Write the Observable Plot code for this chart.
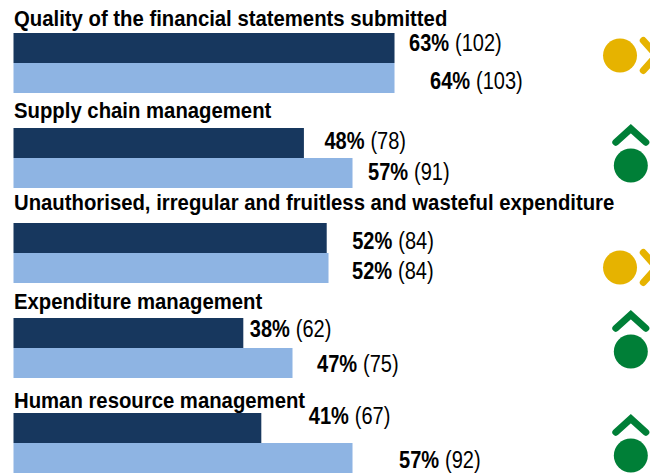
<!DOCTYPE html>
<html>
<head>
<meta charset="utf-8">
<script src="https://cdn.jsdelivr.net/npm/d3@7"></script>
<script src="https://cdn.jsdelivr.net/npm/@observablehq/plot@0.6"></script>
<style>
html,body{margin:0;padding:0;background:#fff;overflow:hidden}
svg{display:block}
</style>
</head>
<body>
<div id="chart"></div>
<script>
const topics = [
  "Quality of the financial statements submitted",
  "Supply chain management",
  "Unauthorised, irregular and fruitless and wasteful expenditure",
  "Expenditure management",
  "Human resource management"
];
const seriesNames = ["Earlier", "Later"];
const earlierPct = [63, 48, 52, 38, 41];
const laterPct = [64, 57, 52, 47, 57];
const earlierCount = [102, 78, 84, 62, 67];
const laterCount = [103, 91, 84, 75, 92];
const earlierBar = [63.5, 48.4, 52.2, 38.3, 41.3];
const laterBar = [63.5, 56.5, 52.5, 46.5, 56.5];
const status = ["steady", "up", "steady", "up", "up"];

// Hand placement of the labels and icons, as in the original slide
const earlierLabel = [[14, -5], [20, -2], [25, 3], [6, -4], [47, -12]];
const laterLabel = [[35, 3], [15, -1], [23, 3], [24, 1], [46, 2]];
const titleDy = [-15, -18, -21, -17, -13];
const iconDy = [-8, 7, 14, 3, 12];
const colors = {dark: "#17375e", light: "#8eb4e3", steady: "#e6b300", up: "#007f37"};
const font = "'Liberation Sans',Arial,sans-serif";
const titleSize = 22, labelSize = 23;
const titleCondense = 0.923, labelCondense = 0.87;

const rows = topics.flatMap((topic, i) => [
  {topic, series: seriesNames[0], bar: earlierBar[i], pct: earlierPct[i], count: earlierCount[i], off: earlierLabel[i]},
  {topic, series: seriesNames[1], bar: laterBar[i], pct: laterPct[i], count: laterCount[i], off: laterLabel[i]}
]);

const chevronUp = {draw(c, size) {
  const r = Math.sqrt(size / Math.PI);
  c.moveTo(-r, r * 0.45); c.lineTo(0, -r * 0.45); c.lineTo(r, r * 0.45);
}};
const chevronRight = {draw(c, size) {
  const r = Math.sqrt(size / Math.PI);
  c.moveTo(-r * 0.45, -r); c.lineTo(r * 0.45, 0); c.lineTo(-r * 0.45, r);
}};

const labelMarks = rows.flatMap(d => [
  Plot.text([d], {x: "bar", y: "series", fy: "topic", text: r => r.pct + "%", textAnchor: "start",
    dx: d.off[0], dy: d.off[1], fontWeight: "bold", fill: "#000", fontSize: labelSize, className: "label"}),
  Plot.text([d], {x: "bar", y: "series", fy: "topic", text: r => "(" + r.count + ")", textAnchor: "start",
    dx: d.off[0] + 46, dy: d.off[1], fill: "#000", fontSize: labelSize, className: "label"})
]);
const titleMarks = topics.map((t, i) =>
  Plot.text([t], {x: () => 0, fy: d => d, text: d => d, frameAnchor: "top", lineAnchor: "middle",
    textAnchor: "start", dy: titleDy[i], fontWeight: "bold", fill: "#000", fontSize: titleSize, className: "title"})
);
const iconMarks = topics.flatMap((t, i) => {
  if (status[i] === "up") return [
    Plot.dot([t], {x: () => 102.8, fy: d => d, r: 17, fill: colors.up, dy: iconDy[i]}),
    Plot.dot([t], {x: () => 102.8, fy: d => d, r: 15, symbol: chevronUp, fill: "none", stroke: colors.up,
      strokeWidth: 7, strokeLinecap: "round", strokeLinejoin: "miter", dy: iconDy[i] - 30})
  ];
  return [
    Plot.dot([t], {x: () => 101, fy: d => d, r: 17, fill: colors.steady, dy: iconDy[i]}),
    Plot.dot([t], {x: () => 106, fy: d => d, r: 15, symbol: chevronRight, fill: "none", stroke: colors.steady,
      strokeWidth: 7, strokeLinecap: "round", strokeLinejoin: "miter", dy: iconDy[i]})
  ];
});

const chart = Plot.plot({
  width: 650, height: 476,
  marginLeft: 13.5, marginRight: 0, marginTop: 33, marginBottom: 3,
  style: {fontFamily: font, background: "#fff"},
  x: {domain: [0, 106.08], axis: null},
  y: {domain: seriesNames, axis: null, padding: 0},
  fy: {domain: topics, axis: null, padding: 35 / 95, paddingOuter: 0},
  color: {domain: seriesNames, range: [colors.dark, colors.light]},
  marks: [
    Plot.barX(rows, {x: "bar", y: "series", fy: "topic", fill: "series"}),
    ...titleMarks,
    ...labelMarks,
    ...iconMarks
  ]
});
document.getElementById("chart").append(chart);
// The original type is a condensed grotesque: narrow the glyphs to the same widths.
const condenseText = (selector, factor) => chart.querySelectorAll(selector).forEach(t => {
  t.setAttribute("textLength", (t.getComputedTextLength() * factor).toFixed(1));
  t.setAttribute("lengthAdjust", "spacingAndGlyphs");
});
condenseText(".title text", titleCondense);
condenseText(".label text", labelCondense);
</script>
</body>
</html>
